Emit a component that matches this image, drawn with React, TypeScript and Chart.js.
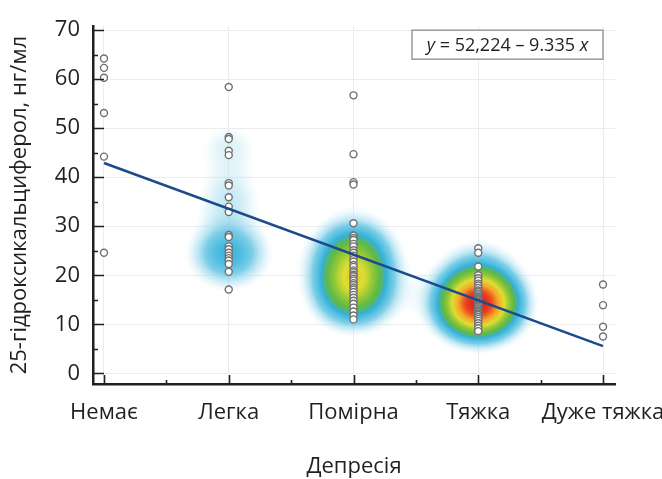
import React, { useEffect, useRef } from 'react';
import { Chart, registerables } from 'chart.js';

Chart.register(...registerables);

// ---------------- data ----------------
const categories = ['Немає', 'Легка', 'Помірна', 'Тяжка', 'Дуже тяжка'];

const noneValues = [64.2, 62.3, 60.3, 53.1, 44.2, 24.6];
const mildValues = [58.4, 48.2, 47.8, 45.4, 44.5, 38.8, 38.3, 35.9, 34.0, 32.9, 28.2, 27.8, 25.9, 25.3, 24.6, 24.0, 23.5, 23.0, 22.3, 20.7, 17.1];
const moderateValues = [56.7, 44.7, 39.0, 38.5, 30.6, 28.1, 27.6, 27.2, 26.4, 25.9, 25.1, 24.6, 24.0, 23.3, 22.8, 22.1, 21.7, 21.0, 20.6, 20.1, 19.8, 19.3, 18.9, 18.4, 18.0, 17.5, 17.1, 16.6, 16.0, 15.4, 14.8, 14.2, 13.4, 12.6, 11.8, 11.0];
const severeValues = [25.5, 24.6, 21.8, 20.0, 19.4, 18.9, 18.3, 17.9, 17.4, 16.9, 16.6, 16.2, 15.9, 15.6, 15.3, 15.1, 14.9, 14.6, 14.4, 14.2, 14.0, 13.8, 13.6, 13.3, 13.1, 12.8, 12.5, 12.2, 11.9, 11.5, 11.1, 10.7, 10.2, 9.7, 9.2, 8.6];
const verySevereValues = [18.1, 13.9, 9.5, 7.5];

const seriesValues = [noneValues, mildValues, moderateValues, severeValues, verySevereValues];

const yTickValues = [0, 10, 20, 30, 40, 50, 60, 70];
const yMinorTickValues = [5, 15, 25, 35, 45, 55, 65];

const regressionIntercept = 52.224;
const regressionSlope = -9.335;
const equationParts = [
  { text: 'y', italic: true },
  { text: ' = 52,224 – 9.335 ', italic: false },
  { text: 'x', italic: true },
];

const yAxisTitle = '25-гідроксикальциферол, нг/мл';
const xAxisTitle = 'Депресія';

// ---------------- styles ----------------
const FONT = "'Open Sans', 'Noto Sans', sans-serif";
const TEXT = '#231f20';
const KDE_SY = 3.8; // value units
const KDE_SX = 28; // pixels

const colorStops: number[][] = [
  [0.0, 205, 237, 246, 0],
  [0.1, 205, 237, 246, 0],
  [0.16, 172, 223, 240, 0.5],
  [0.24, 115, 202, 230, 0.93],
  [0.3, 85, 192, 225, 1],
  [0.36, 52, 176, 215, 1],
  [0.41, 85, 182, 110, 1],
  [0.45, 95, 185, 70, 1],
  [0.55, 150, 200, 55, 1],
  [0.65, 222, 222, 50, 1],
  [0.78, 245, 165, 40, 1],
  [0.9, 235, 70, 30, 1],
  [1.0, 225, 30, 30, 1],
];

function cmap(t: number): number[] {
  if (t <= colorStops[0][0]) return colorStops[0].slice(1);
  for (let i = 1; i < colorStops.length; i++) {
    const a = colorStops[i - 1], b = colorStops[i];
    if (t <= b[0]) {
      const k = (t - a[0]) / (b[0] - a[0]);
      return [1, 2, 3, 4].map((j) => a[j] + (b[j] - a[j]) * k);
    }
  }
  return colorStops[colorStops.length - 1].slice(1);
}

const heatPlugin = {
  id: 'heat',
  beforeDatasetsDraw(chart: any) {
    const { ctx, chartArea: a, scales } = chart;
    const xs = scales.x, ys = scales.y;
    const left = Math.round(a.left), top = Math.round(a.top);
    const w = Math.round(a.right) - left, h = Math.round(a.bottom) - top;
    const cols = seriesValues.map((vals, i) => {
      const cx = xs.getPixelForValue(i + 1) - left;
      const f = new Float32Array(h);
      for (let r = 0; r < h; r++) {
        const v = ys.getValueForPixel(top + r + 0.5);
        let s = 0;
        for (const p of vals) {
          const d = (v - p) / KDE_SY;
          s += Math.exp(-0.5 * d * d);
        }
        f[r] = s;
      }
      const g = new Float32Array(w);
      for (let q = 0; q < w; q++) {
        const d = (q + 0.5 - cx) / KDE_SX;
        g[q] = Math.exp(-0.5 * d * d);
      }
      return { f, g };
    });
    let max = 0;
    cols.forEach((c) => c.f.forEach((v) => { if (v > max) max = v; }));
    const off = document.createElement('canvas');
    off.width = w; off.height = h;
    const octx = off.getContext('2d')!;
    const img = octx.createImageData(w, h);
    const data = img.data;
    for (let r = 0; r < h; r++) {
      for (let q = 0; q < w; q++) {
        let d = 0;
        for (const c of cols) d += c.f[r] * c.g[q];
        const [R, G, B, A] = cmap(d / max);
        const idx = (r * w + q) * 4;
        data[idx] = R; data[idx + 1] = G; data[idx + 2] = B; data[idx + 3] = A * 255;
      }
    }
    octx.putImageData(img, 0, 0);
    ctx.save();
    ctx.drawImage(off, left, top);
    ctx.restore();
  },
};

const axisMarksPlugin = {
  id: 'axisMarks',
  afterDraw(chart: any) {
    const { ctx, chartArea: a, scales } = chart;
    ctx.save();
    ctx.strokeStyle = TEXT;
    ctx.lineWidth = 1.6;
    ctx.beginPath();
    yTickValues.forEach((v) => {
      const p = Math.round(scales.y.getPixelForValue(v)) + 0.5;
      ctx.moveTo(a.left, p); ctx.lineTo(a.left + 11, p);
    });
    yMinorTickValues.forEach((v) => {
      const p = Math.round(scales.y.getPixelForValue(v)) + 0.5;
      ctx.moveTo(a.left, p); ctx.lineTo(a.left + 5, p);
    });
    for (let i = 0; i < categories.length; i++) {
      const p = Math.round(scales.x.getPixelForValue(i + 1)) + 0.5;
      ctx.moveTo(p, a.bottom); ctx.lineTo(p, a.bottom - 9);
      if (i < categories.length - 1) {
        const m = Math.round(scales.x.getPixelForValue(i + 1.5)) + 0.5;
        ctx.moveTo(m, a.bottom); ctx.lineTo(m, a.bottom - 4);
      }
    }
    ctx.stroke();

    // equation box
    const boxW = 191, boxH = 29;
    const bx = a.right - 12 - boxW, by = a.top + 4;
    ctx.fillStyle = '#ffffff';
    ctx.fillRect(bx, by, boxW, boxH);
    ctx.strokeStyle = '#9b9b9b';
    ctx.lineWidth = 1.5;
    ctx.strokeRect(bx, by, boxW, boxH);
    const fs = 18;
    const fontOf = (it: boolean) => `${it ? 'italic ' : ''}${fs}px ${FONT}`;
    let total = 0;
    equationParts.forEach((p) => { ctx.font = fontOf(p.italic); total += ctx.measureText(p.text).width; });
    let tx = bx + (boxW - total) / 2;
    ctx.fillStyle = TEXT;
    ctx.textBaseline = 'middle';
    ctx.textAlign = 'left';
    equationParts.forEach((p) => {
      ctx.font = fontOf(p.italic);
      ctx.fillText(p.text, tx, by + boxH / 2 + 1);
      tx += ctx.measureText(p.text).width;
    });
    ctx.restore();
  },
};

export default function App() {
  const ref = useRef<HTMLCanvasElement | null>(null);
  useEffect(() => {
    if (!ref.current) return;
    const scatterSets = seriesValues.map((vals, i) => ({
      type: 'scatter' as const,
      label: categories[i],
      data: vals.map((v) => ({ x: i + 1, y: v })),
      pointRadius: 3.5,
      pointBorderWidth: 1.4,
      pointBackgroundColor: '#ffffff',
      pointBorderColor: '#707070',
      order: 1,
    }));
    const chart = new Chart(ref.current, {
      type: 'scatter',
      data: {
        datasets: [
          {
            type: 'line' as const,
            label: 'regression',
            data: [1, categories.length].map((x) => ({ x, y: regressionIntercept + regressionSlope * x })),
            borderColor: '#1c4a8b',
            borderWidth: 2.5,
            pointRadius: 0,
            fill: false,
            order: 0,
          } as any,
          ...scatterSets,
        ],
      },
      plugins: [heatPlugin, axisMarksPlugin],
      options: {
        responsive: false,
        animation: false,
        events: [],
        layout: { padding: { top: 15, right: 47, left: 0, bottom: 0 } },
        plugins: { legend: { display: false }, tooltip: { enabled: false } },
        scales: {
          x: {
            type: 'linear',
            min: 0.912,
            max: 5.096,
            afterBuildTicks: (s: any) => {
              const t: any[] = [];
              for (let i = 1; i <= categories.length; i++) t.push({ value: i });
              s.ticks = t;
            },
            afterFit: (s: any) => { s.height = 95; s.paddingLeft = 0; s.paddingRight = 0; },
            ticks: {
              autoSkip: false,
              maxRotation: 0,
              minRotation: 0,
              padding: 16,
              color: TEXT,
              font: { family: FONT, size: 22 },
              callback: (v: any) => categories[Math.round(Number(v)) - 1] ?? '',
            },
            grid: { color: '#ececec', lineWidth: 1, drawTicks: false },
            border: { display: true, color: TEXT, width: 2.5 },
            title: {
              display: true,
              text: xAxisTitle,
              color: TEXT,
              font: { family: FONT, size: 22 },
              padding: { top: 0, bottom: -1 },
            },
          },
          y: {
            type: 'linear',
            min: -2.18,
            max: 70.8,
            afterBuildTicks: (s: any) => { s.ticks = yTickValues.map((v) => ({ value: v })); },
            afterFit: (s: any) => { s.width = 93; },
            ticks: {
              padding: 13,
              color: TEXT,
              font: { family: FONT, size: 22 },
              callback: (v: any) => String(v),
            },
            grid: { color: '#ececec', lineWidth: 1, drawTicks: false },
            border: { display: true, color: TEXT, width: 2.5 },
            title: {
              display: true,
              text: yAxisTitle,
              color: TEXT,
              font: { family: FONT, size: 22 },
              padding: { top: 7, bottom: 0 },
            },
          },
        },
      } as any,
    });
    return () => chart.destroy();
  }, []);
  return (
    <div style={{ position: 'fixed', left: 0, top: 0, width: 662, height: 479, background: '#fff' }}>
      <canvas ref={ref} width={662} height={479} style={{ display: 'block' }} />
    </div>
  );
}
